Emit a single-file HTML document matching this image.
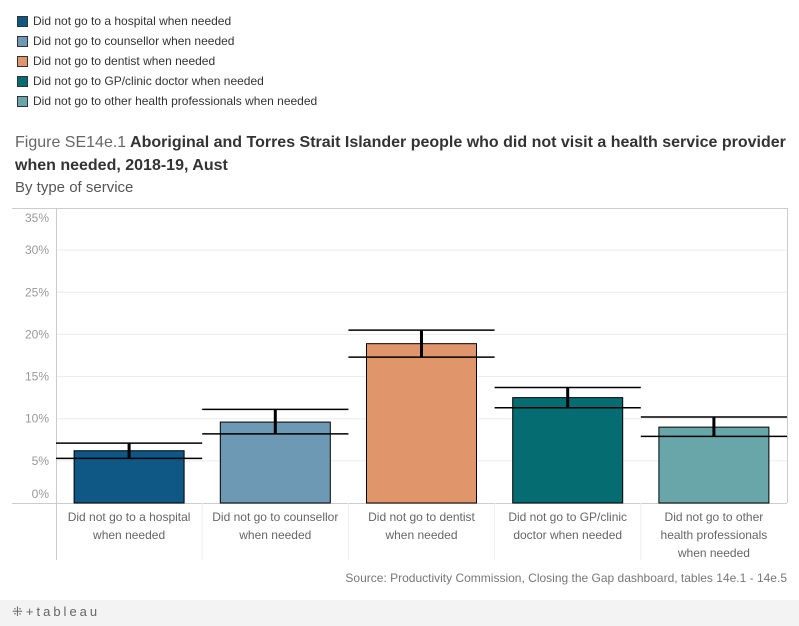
<!DOCTYPE html>
<html><head><meta charset="utf-8"><style>
body{margin:0;width:799px;height:626px;background:#fff;font-family:"Liberation Sans",sans-serif;position:relative;overflow:hidden}
.leg{position:absolute;left:17px;font-size:12px;color:#333;height:14px;line-height:14px}
.leg span{display:inline-block;width:11px;height:11px;border:1px solid #333;vertical-align:-2px;margin-right:5px;box-sizing:border-box}
</style></head><body>
<div>
<div class="leg" style="top:14px"><span style="background:#0f5785"></span>Did not go to a hospital when needed</div>
<div class="leg" style="top:34px"><span style="background:#6e99b4"></span>Did not go to counsellor when needed</div>
<div class="leg" style="top:54px"><span style="background:#e0956b"></span>Did not go to dentist when needed</div>
<div class="leg" style="top:74px"><span style="background:#056c71"></span>Did not go to GP/clinic doctor when needed</div>
<div class="leg" style="top:94px"><span style="background:#68a6a9"></span>Did not go to other health professionals when needed</div>
</div>
<div style="position:absolute;left:15px;top:131px;width:775px;font-size:16px;line-height:23px;color:#333;font-weight:bold"><span style="color:#666;font-weight:normal">Figure SE14e.1</span> Aboriginal and Torres Strait Islander people who did not visit a health service provider when needed, 2018-19, Aust</div>
<div style="position:absolute;left:15px;top:179px;font-size:15px;color:#555">By type of service</div>
<svg id="chart" style="position:absolute;left:0;top:0" width="799" height="600"></svg>
<div style="position:absolute;right:12px;top:571px;font-size:12px;color:#777">Source: Productivity Commission, Closing the Gap dashboard, tables 14e.1 - 14e.5</div>
<div style="position:absolute;left:0;top:600px;width:799px;height:26px;background:#f3f3f3"></div>
<div style="position:absolute;left:12px;top:604px;font-size:13px;color:#666;letter-spacing:3px">⁜+tableau</div>
<script>
const categories=["Did not go to a hospital|when needed","Did not go to counsellor|when needed","Did not go to dentist|when needed","Did not go to GP/clinic|doctor when needed","Did not go to other|health professionals|when needed"];
const values=[6.2,9.6,18.9,12.5,9.0];
const lower=[5.3,8.2,17.3,11.3,7.9];
const upper=[7.1,11.1,20.5,13.7,10.2];
const colors=["#0f5785","#6e99b4","#e0956b","#056c71","#68a6a9"];
const ticks=[0,5,10,15,20,25,30,35];
const svg=document.getElementById('chart');const NS='http://www.w3.org/2000/svg';
const x0=56,x1=787,y0=503,pxPer=8.43;
const colW=(x1-x0)/categories.length;
function y(v){return y0-v*pxPer;}
function mk(t,a,p){const e=document.createElementNS(NS,t);for(const k in a)e.setAttribute(k,a[k]);(p||svg).appendChild(e);return e;}
ticks.forEach(t=>{
 if(t>0&&t<35){const g=mk('line',{x1:x0,x2:x1,y1:y(t),y2:y(t),stroke:'#ececec'});
 
 }
 const ly=t==0?498:(t==35?222:y(t)+4);
 const l=mk('text',{x:49,y:ly,'text-anchor':'end','font-size':12,fill:'#999','font-family':'Liberation Sans'});l.textContent=t+'%';
 
 
});
mk('line',{x1:12,x2:x1,y1:208.5,y2:208.5,stroke:'#ccc'});
mk('line',{x1:x0+.5,x2:x0+.5,y1:208,y2:560,stroke:'#ccc'});
mk('line',{x1:x1+.5,x2:x1+.5,y1:208,y2:503,stroke:'#ccc'});
mk('line',{x1:12,x2:x1,y1:503.5,y2:503.5,stroke:'#ccc'});
categories.forEach((c,i)=>{
 const cx=x0+colW*(i+.5);
 if(i>0){mk('line',{x1:x0+colW*i,x2:x0+colW*i,y1:503,y2:560,stroke:'#eee'});}
 const b=mk('rect',{x:cx-55,y:y(values[i]),width:110,height:y0-y(values[i]),fill:colors[i],stroke:'#000','stroke-width':1});
 
 
 const e=mk('g',{});
 
 
 mk('line',{x1:x0+colW*i,x2:x0+colW*(i+1),y1:y(upper[i]),y2:y(upper[i]),stroke:'#000','stroke-width':1.5},e);
 mk('line',{x1:x0+colW*i,x2:x0+colW*(i+1),y1:y(lower[i]),y2:y(lower[i]),stroke:'#000','stroke-width':1.5},e);
 mk('line',{x1:cx,x2:cx,y1:y(upper[i]),y2:y(lower[i]),stroke:'#000','stroke-width':3},e);
 c.split('|').forEach((ln,j)=>{const t=mk('text',{x:cx,y:521+j*18,'text-anchor':'middle','font-size':12,fill:'#666','font-family':'Liberation Sans'});t.textContent=ln;
 
 });
});
</script>
</body></html>
